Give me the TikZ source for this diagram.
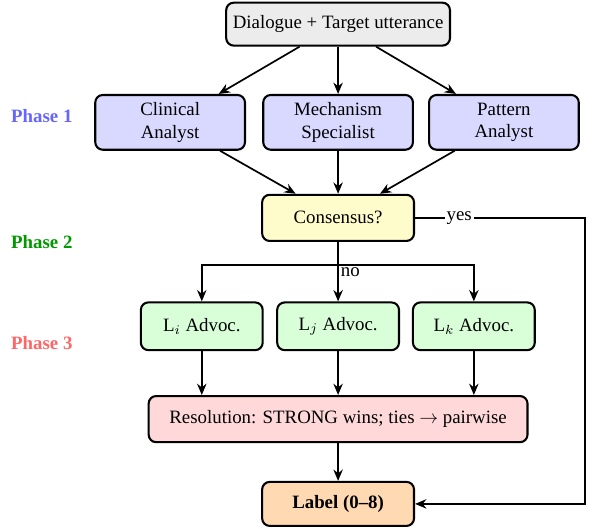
\documentclass[tikz,border=0pt]{standalone}
\usepackage{fontspec}
\setmainfont{Liberation Serif}
\usetikzlibrary{arrows.meta}

\begin{document}
\begin{tikzpicture}[
	box/.style={draw, line width=1.1pt, rounded corners=4pt, align=center, minimum height=0.86cm},
	arr/.style={line width=0.9pt, -{Stealth[length=6pt, width=5pt]}},
	phase/.style={font=\bfseries}]
	\useasboundingbox (0,0) rectangle (11.05,9.84);
	% input
	\node[box, fill=gray!15, minimum width=4.17cm, minimum height=0.8cm] (input) at (6.3,9.39) {Dialogue + Target utterance};
	% phase 1
	\node[box, fill=blue!15, minimum width=2.79cm, minimum height=1.02cm] (clinical) at (3.17,7.56) {Clinical\\Analyst};
	\node[box, fill=blue!15, minimum width=2.79cm, minimum height=1.02cm] (mechanism) at (6.3,7.56) {Mechanism\\Specialist};
	\node[box, fill=blue!15, minimum width=2.79cm, minimum height=1.02cm] (pattern) at (9.39,7.56) {Pattern\\Analyst};
	% phase 2
	\node[box, fill=yellow!20, minimum width=2.83cm] (consensus) at (6.3,5.78) {Consensus?};
	% phase 3
	\node[box, fill=green!15, minimum width=2.27cm, minimum height=0.89cm] (li) at (3.76,3.76) {L$_i$ Advoc.};
	\node[box, fill=green!15, minimum width=2.27cm, minimum height=0.89cm] (lj) at (6.3,3.76) {L$_j$ Advoc.};
	\node[box, fill=green!15, minimum width=2.27cm, minimum height=0.89cm] (lk) at (8.83,3.76) {L$_k$ Advoc.};
	\node[box, fill=red!15, minimum width=7.06cm] (resolution) at (6.3,2.03) {Resolution: STRONG wins; ties $\rightarrow$ pairwise};
	\node[box, fill=orange!30, minimum width=2.83cm, minimum height=0.82cm] (label) at (6.3,0.45) {\textbf{Label (0--8)}};
	% phase labels
	\node[phase, text=blue!60] (ph1) at (0.78,7.68) {Phase 1};
	\node[phase, text=green!60!black] (ph2) at (0.78,5.33) {Phase 2};
	\node[phase, text=red!60] (ph3) at (0.78,3.45) {Phase 3};

	\draw[arr] (input) -- (clinical);
	\draw[arr] (input) -- (mechanism);
	\draw[arr] (input) -- (pattern);
	\draw[arr] (clinical) -- (consensus);
	\draw[arr] (mechanism) -- (consensus);
	\draw[arr] (pattern) -- (consensus);
	\coordinate (split) at (6.3,4.9);
	\draw[line width=0.9pt] (consensus) -- (split) node[below right, inner sep=1pt] {no};
	\draw[arr] (split) -| (li);
	\draw[arr] (split) -- (lj);
	\draw[arr] (split) -| (lk);
	\draw[arr] (li) -- (li |- resolution.north);
	\draw[arr] (lj) -- (resolution);
	\draw[arr] (lk) -- (lk |- resolution.north);
	\draw[arr] (resolution) -- (label);
	\coordinate (yesturn) at (10.9,5.78);
	\draw[arr] (consensus) -- node[pos=0.26, fill=white, inner sep=1pt] {yes} (yesturn) |- (label);
\end{tikzpicture}
\end{document}
